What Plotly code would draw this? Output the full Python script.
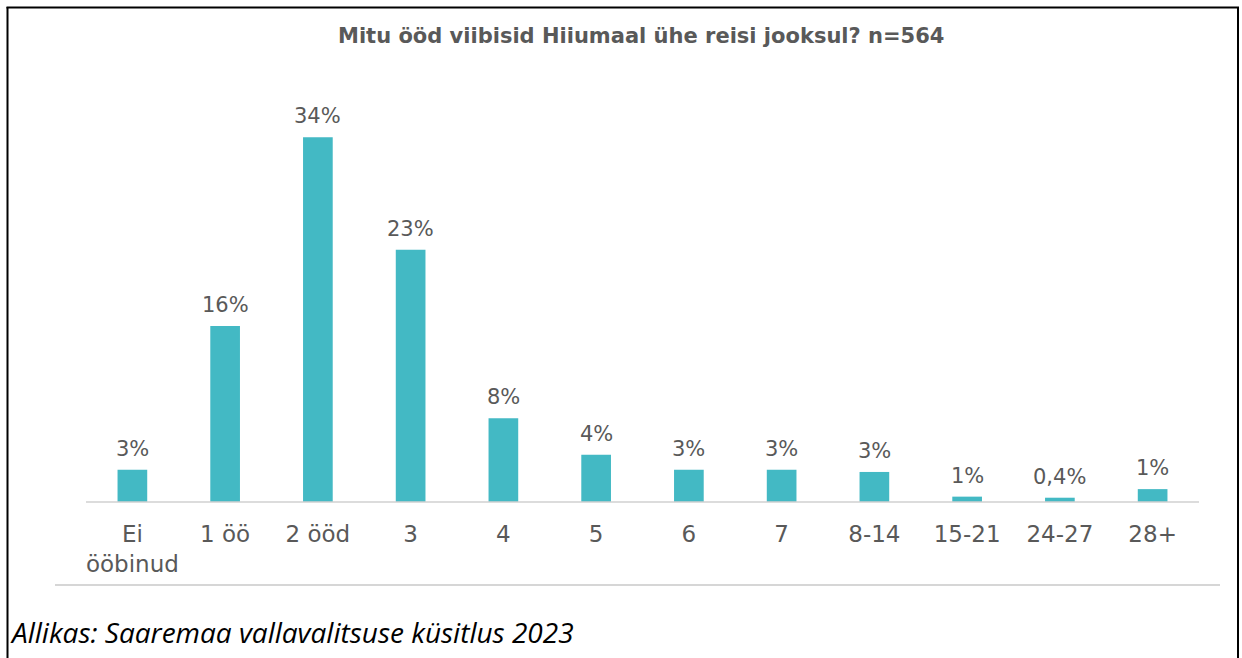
import plotly.graph_objects as go

categories = ["Ei<br>ööbinud", "1 öö", "2 ööd", "3", "4", "5", "6", "7", "8-14", "15-21", "24-27", "28+"]
values = [3.0, 16.4, 34.0, 23.5, 7.8, 4.4, 3.0, 3.0, 2.8, 0.5, 0.4, 1.2]
value_labels = ["3%", "16%", "34%", "23%", "8%", "4%", "3%", "3%", "3%", "1%", "0,4%", "1%"]

title_text = "Mitu ööd viibisid Hiiumaal ühe reisi jooksul? n=564"
source_text = "Allikas: Saaremaa vallavalitsuse küsitlus 2023"

W, H = 1242, 658
L, R = 86, 1199          # plot area left/right in px
T, B = 80, 502           # plot area top / baseline in px
PX_PER_PCT = 10.73
YMAX = (B - T) / PX_PER_PCT

BAR = "#43B9C4"
GRAY = "#595959"
FONT = "DejaVu Sans, Liberation Sans, sans-serif"


def px(x):
    return (x - L) / (R - L)


def py(y):
    return (B - y) / (B - T)


fig = go.Figure()
fig.add_trace(go.Bar(
    x=categories, y=values,
    marker=dict(color=BAR, line=dict(width=0)),
    width=0.32,
    hoverinfo="skip",
))

annotations = []
for c, v, lab in zip(categories, values, value_labels):
    annotations.append(dict(
        x=c, y=v, xref="x", yref="y", text=lab, showarrow=False,
        yanchor="bottom", yshift=7,
        font=dict(family=FONT, size=21, color=GRAY),
    ))

annotations.append(dict(
    x=px(641), y=py(36), xref="paper", yref="paper", text="<b>" + title_text + "</b>",
    showarrow=False, xanchor="center", yanchor="middle",
    font=dict(family=FONT, size=21, color=GRAY),
))
annotations.append(dict(
    x=px(8), y=py(632), xref="paper", yref="paper", text="<i>" + source_text + "</i>",
    showarrow=False, xanchor="left", yanchor="middle",
    font=dict(family="Open Sans, sans-serif", size=28, color="#000000"),
))

shapes = [
    # outer black frame
    dict(type="line", xref="paper", yref="paper", x0=px(7.5), x1=px(7.5), y0=py(7), y1=py(700),
         line=dict(color="#000000", width=2)),
    dict(type="line", xref="paper", yref="paper", x0=px(1238), x1=px(1238), y0=py(7), y1=py(700),
         line=dict(color="#000000", width=2)),
    dict(type="line", xref="paper", yref="paper", x0=px(6.5), x1=px(1239), y0=py(7.5), y1=py(7.5),
         line=dict(color="#000000", width=2)),
    # light gray chart frame bottom
    dict(type="line", xref="paper", yref="paper", x0=px(55), x1=px(1220), y0=py(585), y1=py(585),
         line=dict(color="#C8C8C8", width=1.5)),
    # baseline
    dict(type="line", xref="paper", yref="paper", x0=0, x1=1, y0=0, y1=0,
         line=dict(color="#D0D0D0", width=1.5)),
]

fig.update_layout(
    width=W, height=H,
    margin=dict(l=L, r=W - R, t=T, b=H - B),
    paper_bgcolor="white", plot_bgcolor="white",
    showlegend=False,
    bargap=0.68,
    annotations=annotations,
    shapes=shapes,
    xaxis=dict(
        showgrid=False, zeroline=False, showline=False, ticks="",
        tickfont=dict(family=FONT, size=23, color=GRAY),
        ticklabelstandoff=16,
        fixedrange=True,
    ),
    yaxis=dict(
        range=[0, YMAX], showgrid=False, zeroline=False, showline=False,
        showticklabels=False, ticks="", fixedrange=True,
    ),
)

fig.write_html(
    "out.html",
    config={"displayModeBar": False},
    post_script="document.body.style.margin='0';document.body.style.overflow='hidden';",
)
